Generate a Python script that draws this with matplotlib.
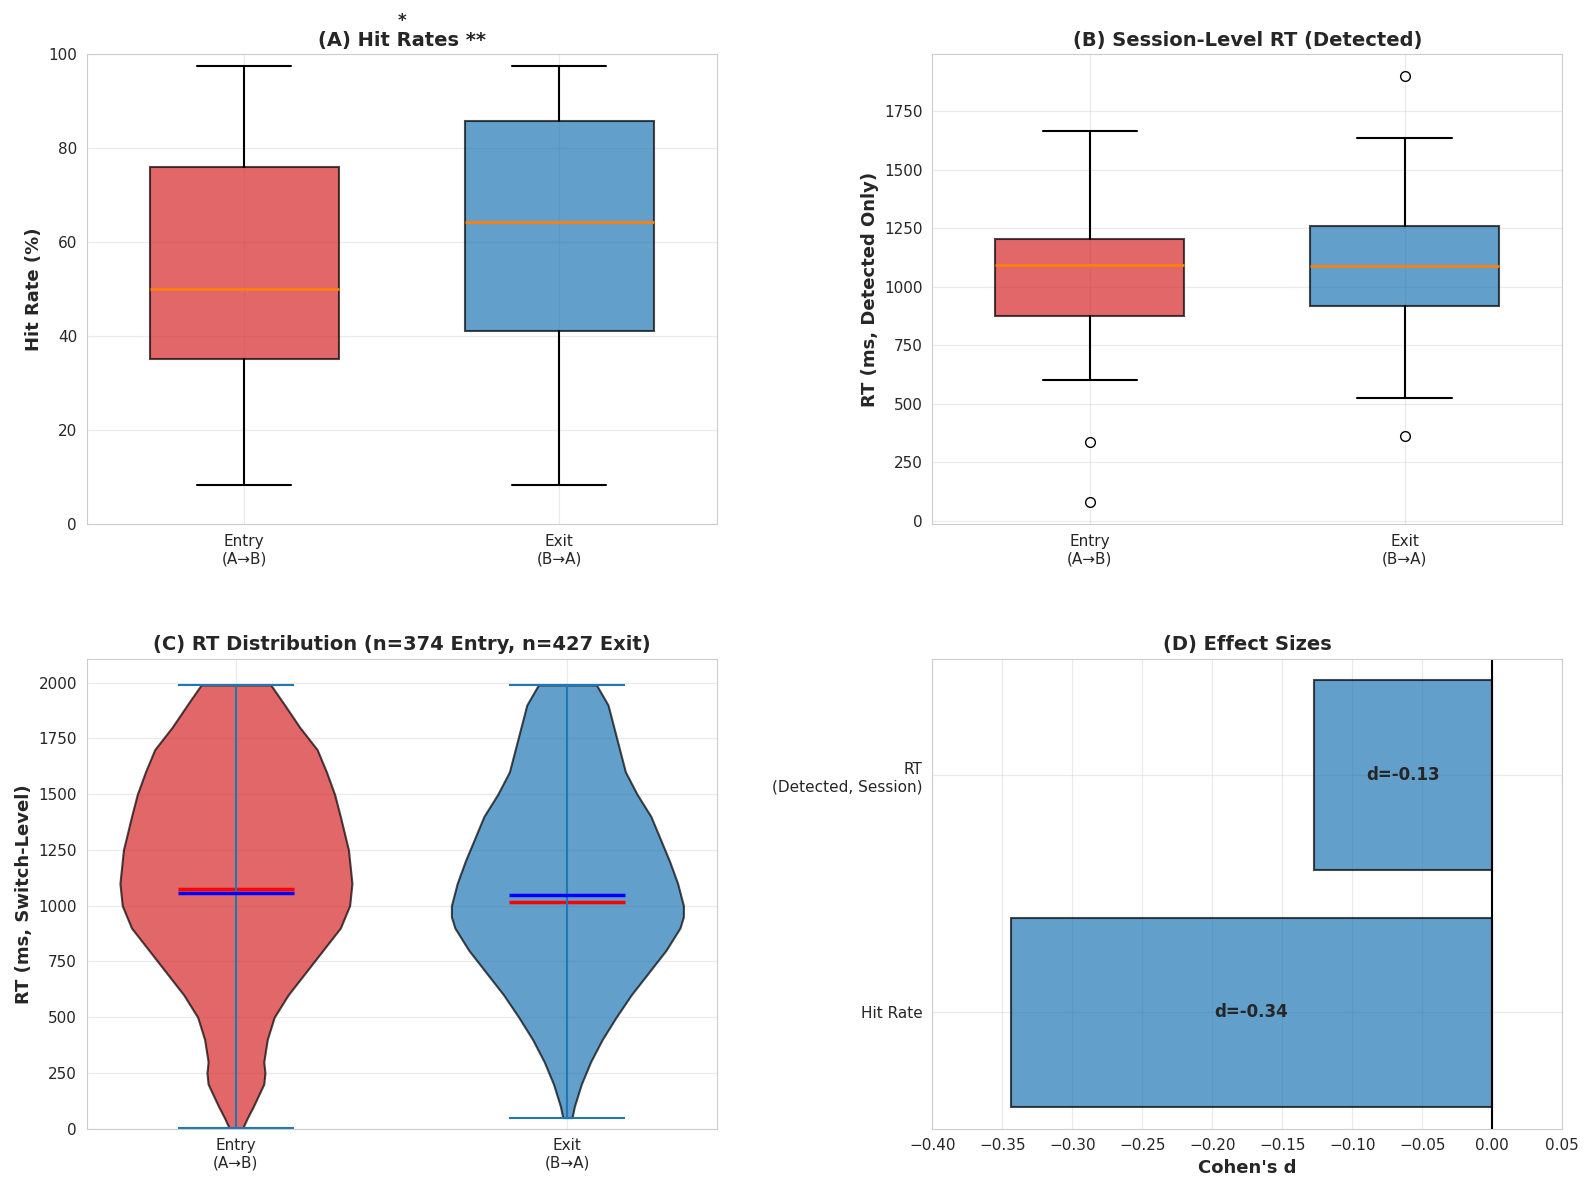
import numpy as np
import matplotlib.pyplot as plt
import seaborn as sns

sns.set_style("whitegrid")
plt.rcParams['font.family'] = ['DejaVu Sans']

groups = ["Entry\n(A→B)", "Exit\n(B→A)"]
colors = ["#d62728", "#1f77b4"]

# (A) hit rate box stats
hit_lo = [8.3, 8.3]
hit_q1 = [35.0, 41.0]
hit_med = [50.0, 64.3]
hit_q3 = [76.0, 85.7]
hit_hi = [97.5, 97.5]

# (B) session RT box stats
rt_lo = [600, 525]
rt_q1 = [875, 920]
rt_med = [1095, 1090]
rt_q3 = [1205, 1258]
rt_hi = [1668, 1635]
rt_fliers = [[335, 80], [1900, 362]]

# (C) violin density profiles (relative width)
entry_y = [5, 50, 100, 200, 250, 300, 400, 500, 600, 700, 800, 900, 1000,
           1100, 1250, 1400, 1500, 1600, 1700, 1800, 1900, 1990]
entry_d = [0.06, 0.1, 0.15, 0.24, 0.25, 0.24, 0.27, 0.33, 0.45, 0.6, 0.75, 0.9, 0.98,
           1.0, 0.97, 0.9, 0.85, 0.78, 0.7, 0.55, 0.42, 0.3]
exit_y = [50, 100, 200, 300, 400, 500, 600, 700, 800, 900, 950, 1000, 1100,
          1200, 1300, 1400, 1500, 1600, 1700, 1800, 1900, 1990]
exit_d = [0.04, 0.06, 0.12, 0.2, 0.3, 0.42, 0.55, 0.7, 0.85, 0.97, 1.0, 1.0, 0.95,
          0.88, 0.8, 0.72, 0.6, 0.5, 0.45, 0.4, 0.35, 0.25]
viol_min = [5, 50]
viol_max = [1990, 1990]
viol_mean = [1075, 1015]
viol_median = [1055, 1050]

# (D) effect sizes
effect_labels = ["Hit Rate", "RT\n(Detected, Session)"]
effect_d = [-0.344, -0.127]

fig, axes = plt.subplots(2, 2, figsize=(15.94, 11.92), dpi=100)

def boxes(ax, lo, q1, med, q3, hi, fliers):
    stats = []
    for i in range(2):
        stats.append(dict(whislo=lo[i], q1=q1[i], med=med[i], q3=q3[i],
                          whishi=hi[i], fliers=fliers[i]))
    bp = ax.bxp(stats, positions=[1, 2], widths=0.6, patch_artist=True,
                medianprops=dict(color="#ff7f0e", linewidth=2),
                whiskerprops=dict(linewidth=1.5), capprops=dict(linewidth=1.5),
                flierprops=dict(marker="o", markerfacecolor="white", markersize=7))
    for p, c in zip(bp["boxes"], colors):
        p.set_facecolor(c)
        p.set_alpha(0.7)
        p.set_edgecolor("black")
        p.set_linewidth(1.5)
    ax.set_xticks([1, 2])
    ax.set_xticklabels(groups, fontsize=11)

ax = axes[0, 0]
boxes(ax, hit_lo, hit_q1, hit_med, hit_q3, hit_hi, [[], []])
ax.set_ylim(0, 100)
ax.set_ylabel("Hit Rate (%)", fontsize=13, fontweight="bold")
ax.set_title("(A) Hit Rates **", fontsize=14, fontweight="bold")
ax.text(0.5, 1.06, "*", transform=ax.transAxes, ha="center", fontsize=12, fontweight="bold")

ax = axes[0, 1]
boxes(ax, rt_lo, rt_q1, rt_med, rt_q3, rt_hi, rt_fliers)
ax.set_ylim(-13, 1995)
ax.set_ylabel("RT (ms, Detected Only)", fontsize=13, fontweight="bold")
ax.set_title("(B) Session-Level RT (Detected)", fontsize=14, fontweight="bold")

ax = axes[1, 0]
vstats = []
for ys, ds, i in [(entry_y, entry_d, 0), (exit_y, exit_d, 1)]:
    vstats.append(dict(coords=np.array(ys, float), vals=np.array(ds, float),
                       mean=viol_mean[i], median=viol_median[i],
                       min=viol_min[i], max=viol_max[i]))
vp = ax.violin(vstats, positions=[1, 2], widths=0.7, showmeans=True, showmedians=True)
for b, c in zip(vp["bodies"], colors):
    b.set_facecolor(c)
    b.set_alpha(0.7)
    b.set_edgecolor("black")
    b.set_linewidth(1.5)
    b.set_joinstyle("round")
vp["cmeans"].set_color("red")
vp["cmeans"].set_linewidth(2.5)
vp["cmedians"].set_color("blue")
vp["cmedians"].set_linewidth(2.5)
ax.set_xlim(0.55, 2.45)
ax.set_ylim(0, 2107)
ax.set_xticks([1, 2])
ax.set_xticklabels(groups, fontsize=11)
ax.set_ylabel("RT (ms, Switch-Level)", fontsize=13, fontweight="bold")
ax.set_title("(C) RT Distribution (n=374 Entry, n=427 Exit)", fontsize=14, fontweight="bold")

ax = axes[1, 1]
ax.barh([0, 1], effect_d, height=0.8, color="#1f77b4", alpha=0.7,
        edgecolor="black", linewidth=1.5)
for i, d in enumerate(effect_d):
    ax.text(d / 2, i, f"d={d:.2f}", ha="center", va="center", fontsize=12, fontweight="bold")
ax.axvline(0, color="black", linewidth=1.5)
ax.set_xlim(-0.4, 0.05)
ax.set_ylim(-0.49, 1.49)
ax.set_yticks([0, 1])
ax.set_yticklabels(effect_labels, fontsize=11)
ax.set_xlabel("Cohen's d", fontsize=13, fontweight="bold")
ax.set_title("(D) Effect Sizes", fontsize=14, fontweight="bold")

for a in axes.flat:
    a.tick_params(labelsize=11)
    a.grid(True, alpha=0.4)

plt.tight_layout(h_pad=5, w_pad=4)
plt.savefig("out.png")
